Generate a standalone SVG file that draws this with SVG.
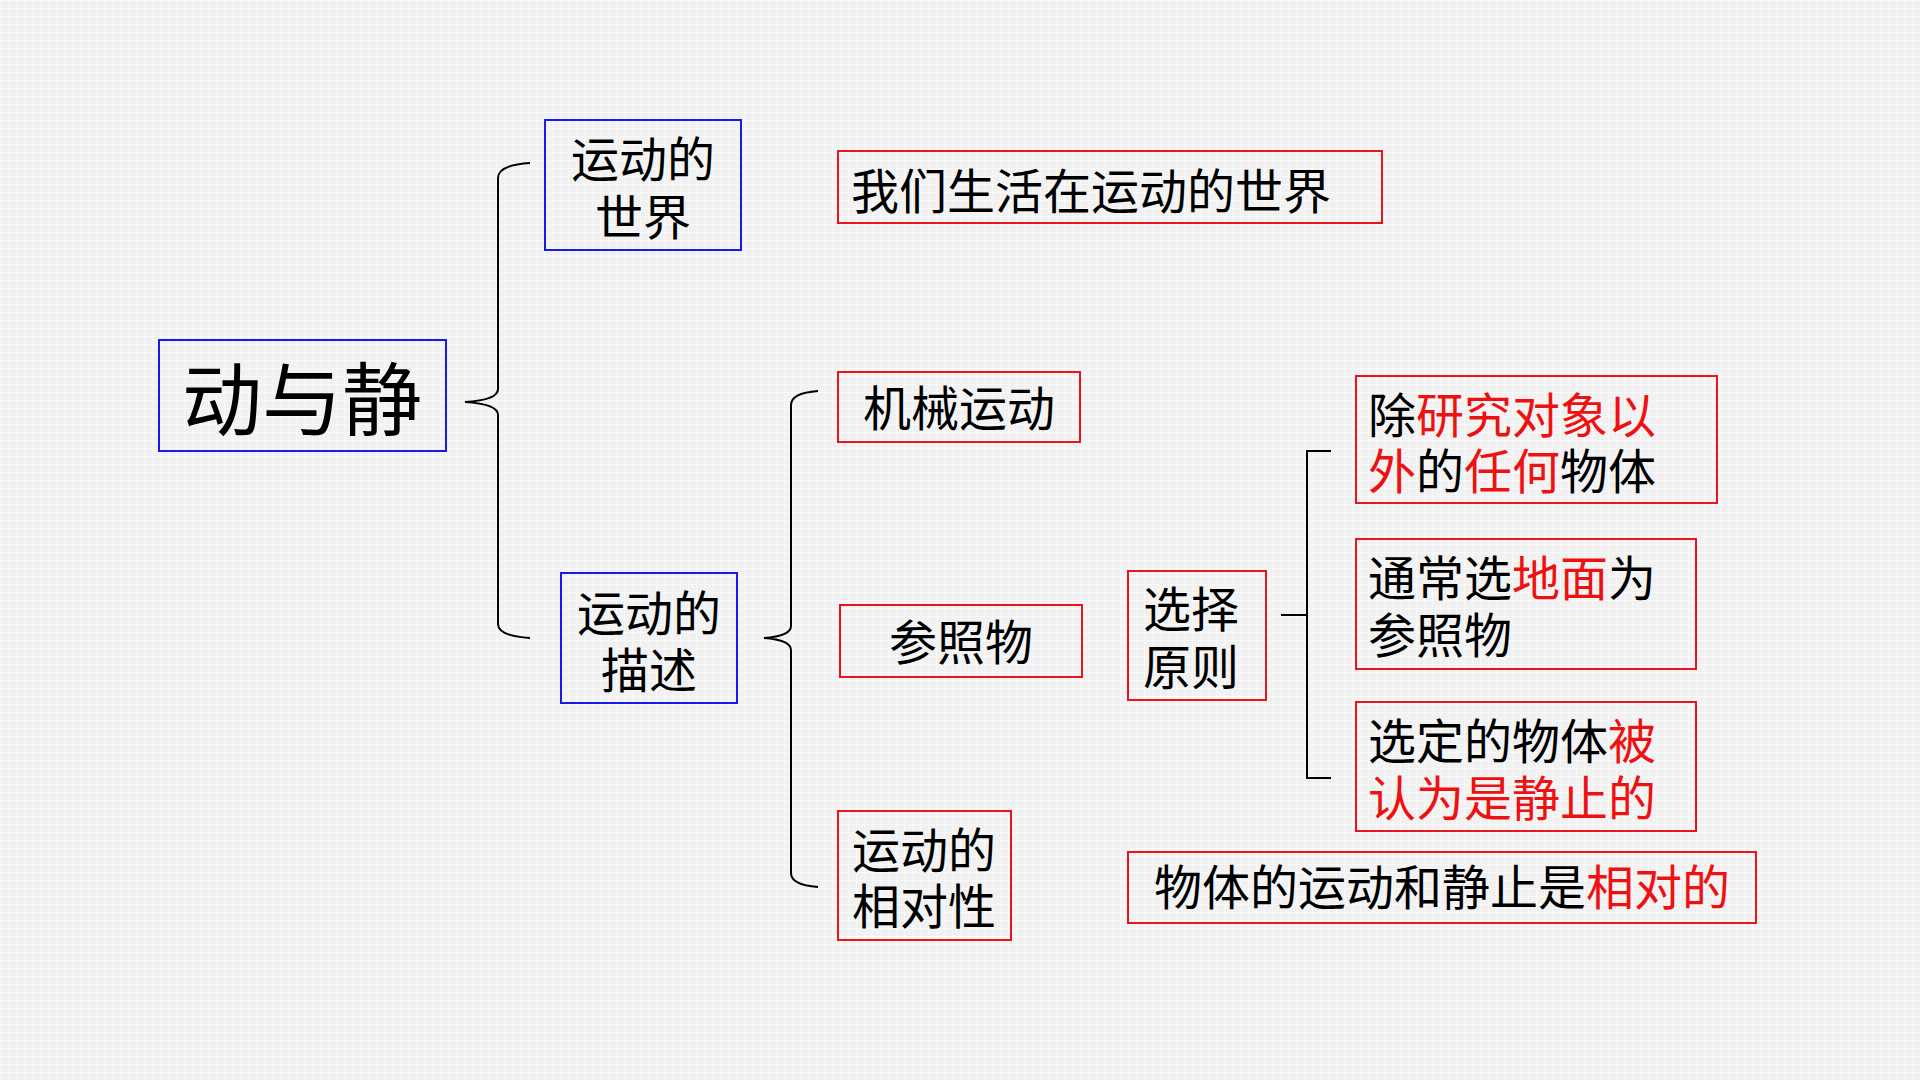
<svg xmlns="http://www.w3.org/2000/svg" width="1920" height="1080" viewBox="0 0 1920 1080">
  <defs>
    <pattern id="grid" width="8" height="8" patternUnits="userSpaceOnUse">
      <rect width="8" height="8" fill="#f1f1f1"/>
      <path d="M0 0.5H8M0.5 0V8" stroke="#f8f8f8" stroke-width="1"/>
    </pattern>
  </defs>
  <style>
    .bb { fill: none; stroke: #1a1ae6; stroke-width: 2; }
    .rb { fill: none; stroke: #e8141e; stroke-width: 2; }
    .t { font-family: "Noto Sans CJK SC", "Noto Sans", sans-serif; font-size: 48px; fill: #000; }
    .m { text-anchor: middle; }
    .red { fill: #ee1111; }
    .conn path { fill: none; stroke: #000; stroke-width: 2; }
  </style>
  <rect width="1920" height="1080" fill="url(#grid)"/>

  <g class="conn" id="connectors">
    <path d="M530,163 Q498,165 498,178 L498,389 Q498,400 465,402 Q498,404 498,415 L498,624 Q498,636 530,638"/>
    <path d="M818,391 Q791,393 791,405 L791,626 Q791,636 764,638 Q791,640 791,650 L791,873 Q791,885 818,887"/>
    <path d="M1281,615 H1307 M1331,451 H1307 V778 H1331"/>
  </g>

  <g id="n-root">
    <rect class="bb" x="159" y="340" width="287" height="111"/>
    <text class="t m" x="302" y="429" style="font-size:80px">动与静</text>
  </g>

  <g id="n-world">
    <rect class="bb" x="545" y="120" width="196" height="130"/>
    <text class="t m" x="643" y="177">运动的<tspan x="643" dy="58">世界</tspan></text>
  </g>

  <g id="n-world-desc">
    <rect class="rb" x="838" y="151" width="544" height="72"/>
    <text class="t" x="851" y="209">我们生活在运动的世界</text>
  </g>

  <g id="n-describe">
    <rect class="bb" x="561" y="573" width="176" height="130"/>
    <text class="t m" x="649" y="631">运动的<tspan x="649" dy="57">描述</tspan></text>
  </g>

  <g id="n-mech">
    <rect class="rb" x="838" y="372" width="242" height="70"/>
    <text class="t m" x="959" y="426">机械运动</text>
  </g>

  <g id="n-ref">
    <rect class="rb" x="840" y="605" width="242" height="72"/>
    <text class="t m" x="961" y="660">参照物</text>
  </g>

  <g id="n-relative">
    <rect class="rb" x="838" y="811" width="173" height="129"/>
    <text class="t m" x="924" y="868">运动的<tspan x="924" dy="56">相对性</tspan></text>
  </g>

  <g id="n-principle">
    <rect class="rb" x="1128" y="571" width="138" height="129"/>
    <text class="t" x="1143" y="627">选择<tspan x="1143" dy="58">原则</tspan></text>
  </g>

  <g id="n-p1">
    <rect class="rb" x="1356" y="376" width="361" height="127"/>
    <text class="t" x="1368" y="433">除<tspan class="red">研究对象以</tspan><tspan x="1368" dy="56" class="red">外</tspan>的<tspan class="red">任何</tspan>物体</text>
  </g>

  <g id="n-p2">
    <rect class="rb" x="1356" y="539" width="340" height="130"/>
    <text class="t" x="1368" y="596">通常选<tspan class="red">地面</tspan>为<tspan x="1368" dy="57">参照物</tspan></text>
  </g>

  <g id="n-p3">
    <rect class="rb" x="1356" y="702" width="340" height="129"/>
    <text class="t" x="1368" y="759">选定的物体<tspan class="red">被</tspan><tspan x="1368" dy="57" class="red">认为是静止的</tspan></text>
  </g>

  <g id="n-conclusion">
    <rect class="rb" x="1128" y="852" width="628" height="71"/>
    <text class="t" x="1154" y="905">物体的运动和静止是<tspan class="red">相对的</tspan></text>
  </g>
</svg>
